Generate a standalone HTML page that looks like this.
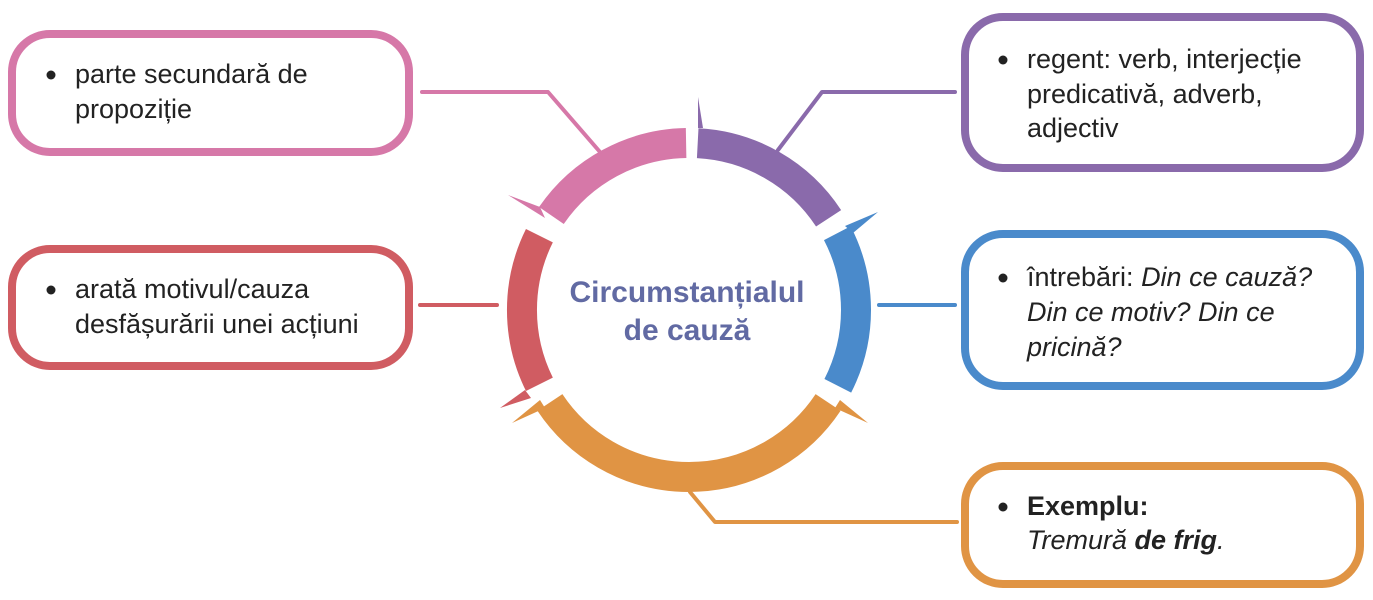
<!DOCTYPE html>
<html><head><meta charset="utf-8"><style>
html,body{margin:0;padding:0;background:#fff;}
svg{display:block;}
.t{font-family:"Liberation Sans",sans-serif;font-size:27px;fill:#222;}
</style></head><body>
<svg width="1373" height="600" viewBox="0 0 1373 600" xmlns="http://www.w3.org/2000/svg">
<g fill="none" stroke-width="30">
<path d="M551.4 215.5 A167 167 0 0 1 686.1 143" stroke="#d678a8"/>
<path d="M697.7 143.2 A167 167 0 0 1 828.6 218.3" stroke="#8a6aab"/>
<path d="M837.3 233.2 A167 167 0 0 1 837.8 385.8" stroke="#4a8acb"/>
<path d="M828.1 402.4 A167 167 0 0 1 549.9 402.4" stroke="#e09444"/>
<path d="M539.4 384.3 A167 167 0 0 1 539.4 235.7" stroke="#d05c62"/>
</g>
<polygon points="508,195 540,207 545,218" fill="#d678a8"/>
<polygon points="698,97 698,128 703,128" fill="#8a6aab"/>
<polygon points="878,212 845,226 853,233" fill="#4a8acb"/>
<polygon points="500,408 525,390 531,398" fill="#d05c62"/>
<polygon points="512,423 545,408 540,400" fill="#e09444"/>
<polygon points="868,423 835,408 840,400" fill="#e09444"/>
<g fill="none" stroke-width="4" stroke-linejoin="round" stroke-linecap="round">
<polyline points="422,92 548,92 600,152" stroke="#d678a8"/>
<polyline points="955,92 822,92 778,150" stroke="#8a6aab"/>
<line x1="420" y1="305" x2="497" y2="305" stroke="#d05c62"/>
<line x1="879" y1="305" x2="955" y2="305" stroke="#4a8acb"/>
<polyline points="690,492 715,522 957,522" stroke="#e09444"/>
</g>
<g fill="#fff" stroke-width="8">
<rect x="12" y="34" width="397" height="118" rx="38" stroke="#d678a8"/>
<rect x="965" y="17" width="395" height="151" rx="38" stroke="#8a6aab"/>
<rect x="12" y="249" width="397" height="117" rx="38" stroke="#d05c62"/>
<rect x="965" y="234" width="395" height="152" rx="38" stroke="#4a8acb"/>
<rect x="965" y="466" width="395" height="118" rx="38" stroke="#e09444"/>
</g>
<g fill="#222">
<circle cx="51" cy="75" r="4.5"/><circle cx="51" cy="290" r="4.5"/>
<circle cx="1003" cy="60" r="4.5"/><circle cx="1003" cy="278" r="4.5"/><circle cx="1003" cy="507" r="4.5"/>
</g>
<text class="t" x="75" y="83">parte secundară de</text>
<text class="t" x="75" y="118">propoziție</text>
<text class="t" x="75" y="298">arată motivul/cauza</text>
<text class="t" x="75" y="333">desfășurării unei acțiuni</text>
<text class="t" x="1027" y="68">regent: verb, interjecție</text>
<text class="t" x="1027" y="103">predicativă, adverb,</text>
<text class="t" x="1027" y="137">adjectiv</text>
<text class="t" x="1027" y="286">întrebări: <tspan font-style="italic">Din ce cauză?</tspan></text>
<text class="t" x="1027" y="321" font-style="italic">Din ce motiv? Din ce</text>
<text class="t" x="1027" y="356" font-style="italic">pricină?</text>
<text class="t" x="1027" y="515" font-weight="bold">Exemplu:</text>
<text class="t" x="1027" y="549" font-style="italic">Tremură <tspan font-weight="bold">de frig</tspan>.</text>
<text x="687" y="302" text-anchor="middle" font-family="Liberation Sans,sans-serif" font-size="30" font-weight="bold" fill="#616aa3">Circumstanțialul</text>
<text x="687" y="340" text-anchor="middle" font-family="Liberation Sans,sans-serif" font-size="30" font-weight="bold" fill="#616aa3">de cauză</text>
</svg>
</body></html>
